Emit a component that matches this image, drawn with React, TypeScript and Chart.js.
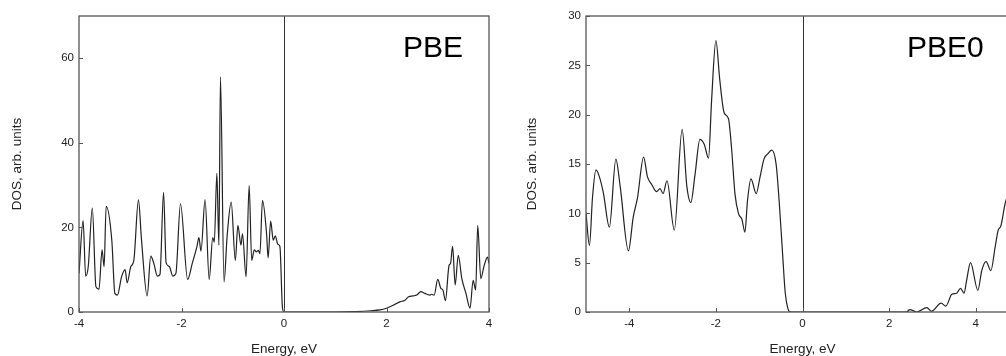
import React, { useEffect, useRef } from "react";
import { Chart, registerables } from "chart.js";

Chart.register(...registerables);

// ---- PBE panel data ----
const pbeEnergy = [
  -4.0, -3.92, -3.87, -3.82, -3.74, -3.67, -3.61, -3.55, -3.51, -3.47, -3.36, -3.3, -3.25, -3.17, -3.1, -3.06,
  -2.99, -2.93, -2.84, -2.78, -2.67, -2.6, -2.54, -2.47, -2.42, -2.35, -2.3, -2.24, -2.17, -2.11, -2.02,
  -1.88, -1.79, -1.7, -1.66, -1.62, -1.54, -1.46, -1.39, -1.36, -1.31, -1.27, -1.24, -1.17, -1.11, -1.03,
  -0.95, -0.9, -0.84, -0.81, -0.74, -0.68, -0.63, -0.58, -0.54, -0.5, -0.47, -0.42, -0.34, -0.31, -0.26,
  -0.21, -0.17, -0.12, -0.08, -0.03, 0.0, 0.5, 1.0, 1.4, 1.7, 1.87, 2.0, 2.13, 2.26, 2.36, 2.43, 2.52, 2.59,
  2.67, 2.75, 2.84, 2.88, 2.93, 3.0, 3.06, 3.1, 3.15, 3.22, 3.25, 3.29, 3.34, 3.4, 3.47, 3.55, 3.63, 3.69,
  3.74, 3.78, 3.84, 3.9, 3.97, 4.0,
];
const pbeDos = [
  9.1, 21.6, 8.5, 10.7, 24.6, 6.0, 5.4, 14.7, 10.7, 25.0, 17.0, 4.4, 4.0, 8.3, 10.0, 6.9,
  10.7, 12.2, 26.5, 17.0, 3.8, 13.2, 11.5, 8.5, 8.9, 28.3, 11.6, 10.8, 8.5, 9.1, 25.6,
  7.7, 11.5, 15.4, 17.6, 14.4, 26.6, 7.7, 17.6, 16.5, 32.8, 15.8, 55.6, 7.1, 17.9, 26.0,
  12.2, 20.5, 15.8, 18.5, 8.3, 29.9, 12.2, 14.7, 14.2, 14.6, 13.8, 26.4, 18.5, 12.8, 21.5,
  17.0, 18.0, 16.0, 15.5, 1.0, 0.0, 0.0, 0.0, 0.1, 0.3, 0.5, 0.9, 1.6, 2.4, 2.8, 3.6, 3.8, 4.0,
  4.8, 4.4, 4.0, 4.2, 4.0, 7.7, 5.6, 5.2, 2.7, 11.0, 11.5, 15.5, 6.4, 13.4, 7.9, 4.4, 0.9, 7.5,
  5.2, 20.5, 7.9, 10.7, 13.0, 11.5,
];
const pbeXTicks = [-4, -2, 0, 2, 4];
const pbeYTicks = [0, 20, 40, 60];

// ---- PBE0 panel data ----
const pbe0Energy = [
  -5.0, -4.92, -4.85, -4.77, -4.69, -4.6, -4.46, -4.31, -4.21, -4.02, -3.91, -3.81, -3.67, -3.58, -3.48,
  -3.37, -3.29, -3.22, -3.13, -2.96, -2.78, -2.67, -2.58, -2.48, -2.37, -2.27, -2.17, -2.1, -2.0, -1.91,
  -1.81, -1.71, -1.64, -1.56, -1.48, -1.4, -1.33, -1.27, -1.19, -1.07, -0.98, -0.89, -0.81, -0.71, -0.61,
  -0.54, -0.46, -0.4, -0.34, -0.28, 0.5, 1.0, 2.0, 2.4, 2.48, 2.64, 2.87, 2.98, 3.2, 3.31, 3.45, 3.56,
  3.65, 3.73, 3.79, 3.88, 4.05, 4.14, 4.24, 4.35, 4.45, 4.52, 4.58, 4.68, 4.75,
];
const pbe0Dos = [
  10.0, 6.75, 11.6, 14.4, 13.7, 12.1, 8.6, 15.5, 12.7, 6.2, 9.6, 11.6, 15.7, 13.7, 12.9,
  12.2, 12.5, 12.0, 13.3, 8.3, 18.5, 12.7, 11.1, 14.0, 17.5, 17.0, 15.6, 21.4, 27.5, 23.5,
  20.2, 19.6, 16.7, 12.0, 10.0, 9.4, 8.1, 11.3, 13.5, 12.0, 13.7, 15.5, 16.0, 16.4, 15.0,
  11.3, 5.9, 2.0, 0.4, 0.0, 0.0, 0.0, 0.0, 0.0, 0.25, 0.0, 0.45, 0.07, 0.9, 0.6, 1.8, 1.9,
  2.4, 1.9, 3.2, 5.0, 2.2, 4.2, 5.1, 4.2, 6.6, 8.3, 8.7, 11.0, 12.0,
];
const pbe0XTicks = [-4, -2, 0, 2, 4];
const pbe0YTicks = [0, 5, 10, 15, 20, 25, 30];

const FONT = "Arial, 'Liberation Sans', sans-serif";
const TICK_COLOR = "#222";
const FRAME_COLOR = "#555";

type PanelCfg = {
  energy: number[];
  dos: number[];
  xTicks: number[];
  yTicks: number[];
  xMin: number;
  xMax: number;
  yMax: number;
  yTitle: string;
  label: string;
  labelX: number;
  yAxisWidth: number;
  yTitlePad: number;
  padRight: number;
};

function makePlugin(cfg: PanelCfg) {
  return {
    id: "frameDeco",
    beforeDatasetsDraw(chart: any) {
      const { ctx, chartArea } = chart;
      const x = chart.scales.x;
      const zx = Math.round(x.getPixelForValue(0)) + 0.5;
      ctx.save();
      ctx.strokeStyle = "#333";
      ctx.lineWidth = 1;
      ctx.beginPath();
      ctx.moveTo(zx, chartArea.top);
      ctx.lineTo(zx, chartArea.bottom);
      ctx.stroke();
      ctx.restore();
    },
    afterDraw(chart: any) {
      const { ctx, chartArea } = chart;
      const { left, right, top, bottom } = chartArea;
      const xs = chart.scales.x;
      const ys = chart.scales.y;
      ctx.save();
      ctx.strokeStyle = FRAME_COLOR;
      ctx.lineWidth = 1.3;
      ctx.strokeRect(left, top, right - left, bottom - top);
      ctx.lineWidth = 1;
      ctx.beginPath();
      for (const t of xs.ticks) {
        const p = Math.round(xs.getPixelForValue(t.value)) + 0.5;
        ctx.moveTo(p, bottom);
        ctx.lineTo(p, bottom - 4);
      }
      for (const t of ys.ticks) {
        const p = Math.round(ys.getPixelForValue(t.value)) + 0.5;
        ctx.moveTo(left, p);
        ctx.lineTo(left + 4, p);
      }
      ctx.stroke();
      ctx.fillStyle = "#000";
      ctx.font = `30px ${FONT}`;
      ctx.textBaseline = "alphabetic";
      ctx.textAlign = "left";
      ctx.fillText(cfg.label, cfg.labelX, 57);
      ctx.restore();
    },
  };
}

function Panel({ cfg, width, left }: { cfg: PanelCfg; width: number; left: number }) {
  const ref = useRef<HTMLCanvasElement | null>(null);
  useEffect(() => {
    if (!ref.current) return;
    const chart = new Chart(ref.current, {
      type: "line",
      data: {
        datasets: [
          {
            data: cfg.energy.map((e, i) => ({ x: e, y: cfg.dos[i] })),
            borderColor: "#222",
            borderWidth: 1.2,
            pointRadius: 0,
            fill: false,
            cubicInterpolationMode: "monotone",
          },
        ],
      },
      options: {
        responsive: false,
        animation: false,
        events: [],
        layout: { padding: { top: 16, right: cfg.padRight, bottom: 0, left: 0 } },
        plugins: { legend: { display: false }, tooltip: { enabled: false } },
        scales: {
          x: {
            type: "linear",
            min: cfg.xMin,
            max: cfg.xMax,
            grid: { display: false, drawTicks: false },
            border: { display: false },
            afterBuildTicks: (s: any) => {
              s.ticks = cfg.xTicks.map((v) => ({ value: v }));
            },
            afterFit: (s: any) => {
              s.height = 44;
            },
            ticks: {
              padding: 5,
              maxRotation: 0,
              color: TICK_COLOR,
              font: { family: FONT, size: 11.5 },
            },
            title: {
              display: true,
              text: "Energy, eV",
              color: "#222",
              font: { family: FONT, size: 13.5, lineHeight: 1 },
              padding: { top: 0, bottom: 0 },
            },
          },
          y: {
            type: "linear",
            min: 0,
            max: cfg.yMax,
            grid: { display: false, drawTicks: false },
            border: { display: false },
            afterBuildTicks: (s: any) => {
              s.ticks = cfg.yTicks.map((v) => ({ value: v }));
            },
            afterFit: (s: any) => {
              s.width = cfg.yAxisWidth;
            },
            ticks: {
              padding: 5,
              color: TICK_COLOR,
              font: { family: FONT, size: 11.5 },
            },
            title: {
              display: true,
              text: cfg.yTitle,
              color: "#222",
              font: { family: FONT, size: 13.5, lineHeight: 1 },
              padding: { top: cfg.yTitlePad, bottom: 0 },
            },
          },
        },
      },
      plugins: [makePlugin(cfg)],
    } as any);
    return () => chart.destroy();
  }, [cfg]);
  return (
    <canvas
      ref={ref}
      width={width}
      height={356}
      style={{ position: "absolute", left, top: 0, width, height: 356, display: "block" }}
    />
  );
}

const pbeCfg: PanelCfg = {
  energy: pbeEnergy,
  dos: pbeDos,
  xTicks: pbeXTicks,
  yTicks: pbeYTicks,
  xMin: -4,
  xMax: 4,
  yMax: 70,
  yTitle: "DOS, arb. units",
  label: "PBE",
  labelX: 403,
  yAxisWidth: 79,
  yTitlePad: 11,
  padRight: 11,
};

const pbe0Cfg: PanelCfg = {
  energy: pbe0Energy,
  dos: pbe0Dos,
  xTicks: pbe0XTicks,
  yTicks: pbe0YTicks,
  xMin: -5,
  xMax: 5,
  yMax: 30,
  yTitle: "DOS. arb. units",
  label: "PBE0",
  labelX: 407,
  yAxisWidth: 86,
  yTitlePad: 26,
  padRight: 21,
};

export default function App() {
  return (
    <div
      style={{
        position: "fixed",
        left: 0,
        top: 0,
        width: 1006,
        height: 356,
        overflow: "hidden",
        background: "#fff",
      }}
    >
      <Panel cfg={pbeCfg} width={500} left={0} />
      <Panel cfg={pbe0Cfg} width={540} left={500} />
    </div>
  );
}
